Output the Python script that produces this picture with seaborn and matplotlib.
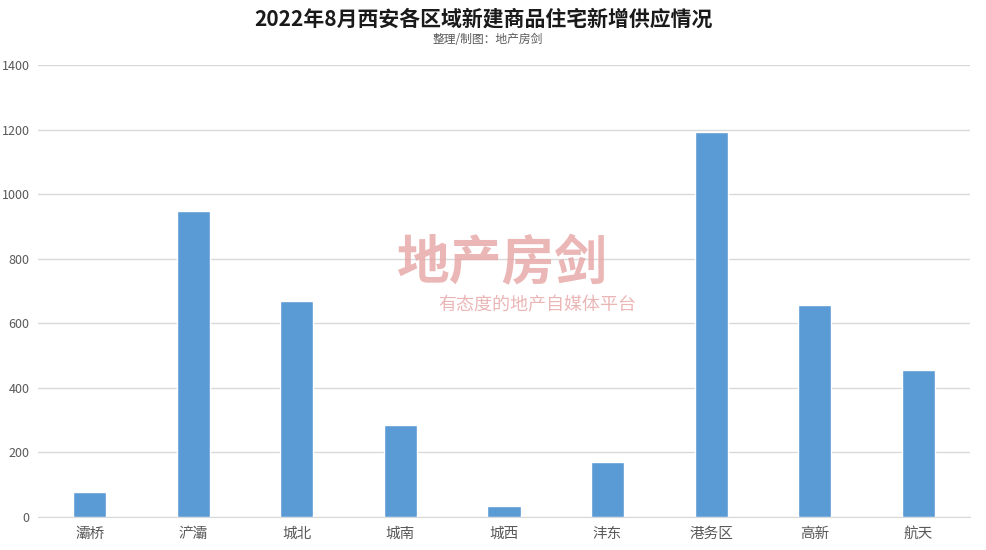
import pandas as pd
import matplotlib.pyplot as plt
import seaborn as sns

districts = ["灞桥", "浐灞", "城北", "城南", "城西", "沣东", "港务区", "高新", "航天"]
supply = [77, 948, 669, 285, 34, 170, 1192, 657, 455]

df = pd.DataFrame({"区域": districts, "供应": supply})

sns.set_style("white")
plt.rcParams['font.family'] = ['Noto Sans CJK SC', 'DejaVu Sans']

fig = plt.figure(figsize=(9.86, 5.5), dpi=100)
ax = fig.add_axes([0.0385, 0.06, 0.9453, 0.8218])

sns.barplot(data=df, x="区域", y="供应", color="#5b9bd5", width=0.32,
            saturation=1, ax=ax, zorder=3)

ax.set_ylim(0, 1400)
ax.set_yticks(range(0, 1401, 200))
ax.yaxis.grid(True, color="#d9d9d9", linewidth=1, zorder=0)
ax.set_xlim(-0.5, len(districts) - 0.5)
for s in ["top", "right", "left"]:
    ax.spines[s].set_visible(False)
ax.spines["bottom"].set_color("#d9d9d9")
ax.tick_params(axis="both", length=0, colors="#595959")
ax.tick_params(axis="y", labelsize=9, pad=6)
ax.tick_params(axis="x", labelsize=10.5, pad=7)
ax.set_xlabel("")
ax.set_ylabel("")

# 标题
fig.text(0.49, 0.965, "2022年8月西安各区域新建商品住宅新增供应情况",
         ha="center", va="center", fontsize=15, fontweight="bold", color="#1a1a1a")
fig.text(0.495, 0.928, "整理/制图：地产房剑", ha="center", va="center",
         fontsize=8.5, color="#595959")

# 水印
fig.text(0.51, 0.52, "地产房剑", ha="center", va="center", fontsize=38,
         fontweight="bold", color="#e8a9a9", alpha=0.85, zorder=5)
fig.text(0.545, 0.445, "有态度的地产自媒体平台", ha="center", va="center",
         fontsize=13, color="#e8a9a9", alpha=0.85, zorder=5)

plt.savefig("out.png", dpi=100)
